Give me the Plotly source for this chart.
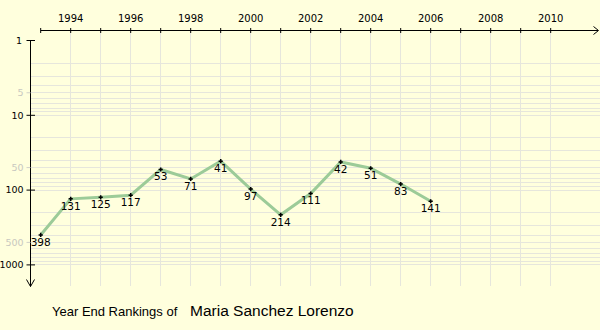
import plotly.graph_objects as go

# Year-end singles rankings
years = [1993, 1994, 1995, 1996, 1997, 1998, 1999, 2000, 2001, 2002, 2003, 2004, 2005, 2006]
ranks = [398, 131, 125, 117, 53, 71, 41, 97, 214, 111, 42, 51, 83, 141]

year_ticks = list(range(1994, 2011, 2))
year_minor = list(range(1995, 2010, 2))
rank_major = [5, 10, 50, 100, 500, 1000]
rank_major_text = ["<span style='color:#c8c8c0'>5</span>", "10",
                   "<span style='color:#c8c8c0'>50</span>", "100",
                   "<span style='color:#c8c8c0'>500</span>", "1000"]
rank_minor = [d * m for d in (1, 10, 100) for m in range(2, 10) if d * m not in rank_major]

player = "Maria Sanchez Lorenzo"
caption = "Year End Rankings of"

# canvas geometry
W, H = 600, 330
L, T, R, B = 31, 30, 0, 44
X0_PX, X_STEP = 40.7, 30.0          # pixel of first year, pixels per year
Y0_PX, Y_DEC = 40.5, 74.8           # pixel of rank 1, pixels per decade

pw, ph = W - L - R, H - T - B
xr = [years[0] + (L - X0_PX) / X_STEP, years[0] + (W - R - X0_PX) / X_STEP]
yr = [(H - B - Y0_PX) / Y_DEC, (T - Y0_PX) / Y_DEC]


def px(x):
    return (x - L) / pw


def py(y):
    return 1 - (y - T) / ph


BG = "#FFFFDD"
GRID = "#E6E6DC"
FONT = "DejaVu Sans"

fig = go.Figure()
fig.add_trace(go.Scatter(
    x=years, y=ranks, mode="lines+markers+text",
    line=dict(color="#9CCB98", width=3),
    marker=dict(symbol="cross-thin", size=3, color="black",
                line=dict(color="black", width=1.5)),
    text=[str(r) for r in ranks], textposition="bottom center",
    textfont=dict(family=FONT, size=10.5, color="black"),
    hoverinfo="skip", showlegend=False,
))

shapes = []
line_k = dict(color="black", width=1)
# top axis with arrow
shapes.append(dict(type="line", xref="paper", yref="paper",
                   x0=px(X0_PX), x1=px(598), y0=py(30.5), y1=py(30.5), line=line_k))
shapes.append(dict(type="path", xref="paper", yref="paper",
                   path=f"M{px(593.5)},{py(26.5)} L{px(598.5)},{py(30.5)} L{px(593.5)},{py(34.5)}",
                   line=line_k))
# left axis with arrow
shapes.append(dict(type="line", xref="paper", yref="paper",
                   x0=px(30.5), x1=px(30.5), y0=py(Y0_PX), y1=py(286.5), line=line_k))
shapes.append(dict(type="path", xref="paper", yref="paper",
                   path=f"M{px(26.5)},{py(279.5)} L{px(30.5)},{py(286.5)} L{px(34.5)},{py(279.5)}",
                   line=line_k))
# year tick marks crossing the top axis
for yv in range(years[0], 2011):
    shapes.append(dict(type="line", xref="x", yref="paper", x0=yv, x1=yv,
                       y0=py(28), y1=py(33), line=line_k))
# rank tick marks
for rv in [1, 10, 100, 1000]:
    shapes.append(dict(type="line", xref="paper", yref="y", x0=px(26.5), x1=px(35),
                       y0=rv, y1=rv, line=line_k))
for rv in [5, 50, 500]:
    shapes.append(dict(type="line", xref="paper", yref="y", x0=px(26.5), x1=px(30.5),
                       y0=rv, y1=rv, line=dict(color="#d0d0c8", width=1)))

annotations = [
    dict(xref="paper", yref="y", x=px(24), y=0, text="1", showarrow=False,
         xanchor="right", yanchor="middle", font=dict(family=FONT, size=9.5, color="black")),
    dict(xref="paper", yref="paper", x=px(49.5), y=py(311), text=caption, showarrow=False,
         xanchor="left", yanchor="middle",
         font=dict(family="Liberation Sans", size=13, color="black")),
    dict(xref="paper", yref="paper", x=px(188), y=py(310), text=player, showarrow=False,
         xanchor="left", yanchor="middle",
         font=dict(family="Liberation Sans", size=15.5, color="black")),
]

fig.update_layout(
    width=W, height=H,
    margin=dict(l=L, r=R, t=T, b=B, pad=0, autoexpand=False),
    paper_bgcolor=BG, plot_bgcolor=BG,
    shapes=shapes, annotations=annotations,
    xaxis=dict(range=xr, side="top", tickmode="array", tickvals=year_ticks,
               ticktext=[str(v) for v in year_ticks], automargin=False,
               ticks="outside", ticklen=3, tickcolor="rgba(0,0,0,0)",
               showgrid=True, gridcolor=GRID, gridwidth=1,
               minor=dict(tickmode="array", tickvals=year_minor, showgrid=True,
                          gridcolor=GRID, gridwidth=1),
               showline=False, zeroline=False,
               tickfont=dict(family=FONT, size=10, color="black")),
    yaxis=dict(type="log", range=yr, tickmode="array", tickvals=rank_major,
               ticktext=rank_major_text, automargin=False,
               ticks="outside", ticklen=4.5, tickcolor="rgba(0,0,0,0)",
               showgrid=True, gridcolor=GRID, gridwidth=1,
               minor=dict(tickmode="array", tickvals=rank_minor, showgrid=True,
                          gridcolor=GRID, gridwidth=1),
               showline=False, zeroline=False,
               tickfont=dict(family=FONT, size=9.5, color="black")),
)

fig.write_html("out.html")
